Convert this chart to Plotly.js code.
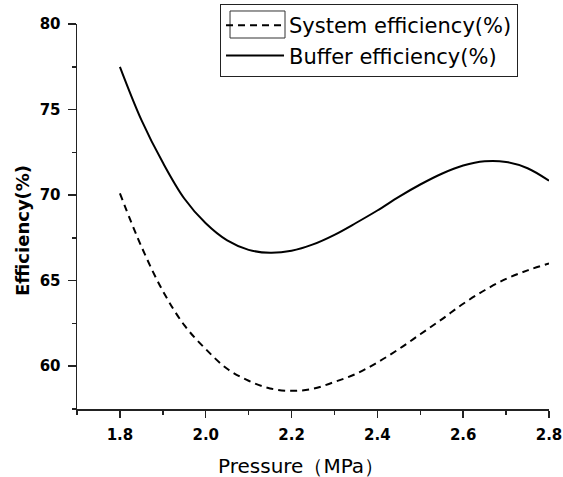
<!DOCTYPE html>
<html>
<head>
<meta charset="utf-8">
<script src="https://cdn.plot.ly/plotly-3.0.1.min.js"></script>
<style>html,body{margin:0;padding:0;background:#fff;}#chart{width:563px;height:477px;}</style>
</head>
<body>
<div id="chart"></div>
<script>
// Pressure (MPa)
var pressure = [1.80, 1.85, 1.90, 1.95, 2.00, 2.05, 2.10, 2.15, 2.20, 2.25, 2.30,
                2.35, 2.40, 2.45, 2.50, 2.55, 2.60, 2.65, 2.70, 2.75, 2.80];
// System efficiency (%)
var systemEff = [70.1, 67.0, 64.4, 62.4, 61.0, 59.85, 59.15, 58.7, 58.56, 58.68, 59.08,
                 59.55, 60.22, 61.0, 61.87, 62.74, 63.65, 64.44, 65.1, 65.6, 66.0];
// Buffer efficiency (%)
var bufferEff = [77.5, 74.4, 71.9, 69.8, 68.35, 67.35, 66.8, 66.63, 66.75, 67.12, 67.68,
                 68.37, 69.1, 69.9, 70.62, 71.25, 71.73, 71.98, 71.94, 71.57, 70.84];
var seriesNames = ["System efficiency(%)", "Buffer efficiency(%)"];
var xTitle = "Pressure（MPa）";
var yTitle = "Efficiency(%)";

var FONT = "DejaVu Sans";
var traces = [
  {x: pressure, y: systemEff, name: seriesNames[0], type: "scatter", mode: "lines",
   line: {color: "#000", width: 2, dash: "7px,5px", shape: "spline"}},
  {x: pressure, y: bufferEff, name: seriesNames[1], type: "scatter", mode: "lines",
   line: {color: "#000", width: 2, shape: "spline"}}
];

var axisCommon = {
  showgrid: false, zeroline: false, showline: true, linecolor: "#222", linewidth: 1.5,
  ticks: "outside", tickcolor: "#222", tickwidth: 1.5,
  tickfont: {family: FONT, size: 15, color: "#000", weight: "bold"}
};

var layout = {
  width: 563, height: 477,
  margin: {l: 77, r: 14, t: 24, b: 68, autoexpand: false},
  paper_bgcolor: "#fff", plot_bgcolor: "#fff",
  font: {family: FONT, color: "#000"},
  xaxis: Object.assign({}, axisCommon, {
    range: [1.7, 2.8], tick0: 1.8, dtick: 0.2, tickformat: ".1f",
    ticklen: 7, ticklabelstandoff: 4,
    minor: {dtick: 0.1, tick0: 1.7, ticks: "outside", ticklen: 4, tickcolor: "#222", tickwidth: 1.5}
  }),
  yaxis: Object.assign({}, axisCommon, {
    range: [57.5, 80], tick0: 60, dtick: 5,
    ticklen: 8, ticklabelstandoff: 4,
    minor: {dtick: 2.5, tick0: 57.5, ticks: "outside", ticklen: 4, tickcolor: "#222", tickwidth: 1.5}
  }),
  showlegend: true,
  legend: {
    x: 0.303, y: 1.052, xanchor: "left", yanchor: "top",
    bordercolor: "#222", borderwidth: 1, bgcolor: "rgba(255,255,255,0)",
    font: {family: FONT, size: 21, color: "#000"},
    itemwidth: 58, tracegroupgap: 0
  },
  annotations: [
    {text: xTitle, xref: "paper", yref: "paper", x: 0.4756, y: -0.148,
     xanchor: "center", yanchor: "middle", showarrow: false,
     font: {family: FONT, size: 20, color: "#000"}},
    {text: yTitle, xref: "paper", yref: "paper", x: -0.1165, y: 0.4623,
     xanchor: "center", yanchor: "middle", showarrow: false, textangle: -90,
     font: {family: FONT, size: 18, color: "#000", weight: "bold"}}
  ],
  shapes: [
    {type: "rect", xref: "paper", yref: "paper", x0: 0.3242, x1: 0.4407, y0: 0.9636, y1: 1.0338,
     line: {color: "#333", width: 1}, fillcolor: "rgba(0,0,0,0)"}
  ]
};

Plotly.newPlot("chart", traces, layout, {displayModeBar: false, staticPlot: true});
</script>
</body>
</html>
